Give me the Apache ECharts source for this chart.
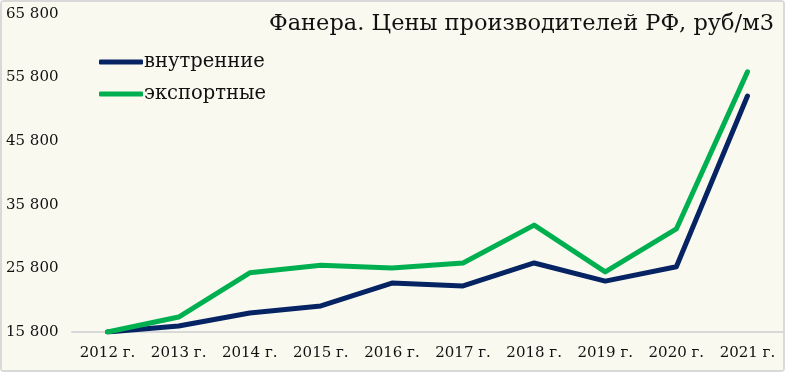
<!DOCTYPE html>
<html><head><meta charset="utf-8">
<script src="https://cdn.jsdelivr.net/npm/echarts@6/dist/echarts.min.js"></script>
<style>
html,body{margin:0;padding:0;background:#fff;}
#c{width:781px;height:368px;border:2px solid #d9d9d9;border-radius:4px;background:#f9f9ef;}
</style></head><body>
<div id="c"></div>
<script>
const categories = ['2012 г.','2013 г.','2014 г.','2015 г.','2016 г.','2017 г.','2018 г.','2019 г.','2020 г.','2021 г.'];
const domestic = [15800,16750,18800,19900,23500,23050,26650,23800,26050,52900];
const exportP = [15800,18150,25100,26300,25850,26650,32600,25250,32000,56700];
const seriesNames = ['внутренние','экспортные'];
const titleText = 'Фанера. Цены производителей РФ, руб/м3';
const font = 'DejaVu Serif';
const chart = echarts.init(document.getElementById('c'));
chart.setOption({
  backgroundColor:'#f9f9ef',
  textStyle:{fontFamily:font},
  title:{text:titleText,right:4,top:6,textStyle:{fontFamily:font,fontSize:22.5,fontWeight:'normal',color:'#111'}},
  legend:{orient:'vertical',left:92,top:45,itemWidth:44,itemHeight:5,itemGap:12,icon:'roundRect',
    textStyle:{fontFamily:font,fontSize:19.5,color:'#111',padding:[0,0,0,-4]},
    data:seriesNames},
  grid:{left:70,right:0,top:12,bottom:38},
  xAxis:{type:'category',data:categories,boundaryGap:true,
    axisLine:{lineStyle:{color:'#d9d9d9',width:2}},axisTick:{show:false},
    axisLabel:{color:'#111',fontSize:15,fontFamily:font,margin:14,interval:0}},
  yAxis:{type:'value',min:15800,max:65800,interval:10000,
    splitLine:{show:false},axisLine:{show:false},axisTick:{show:false},
    axisLabel:{color:'#111',fontSize:15,fontFamily:font,align:'left',margin:66,
      formatter:v=>String(v).replace(/\B(?=(\d{3})+(?!\d))/g,' ')}},
  series:[
    {name:seriesNames[0],type:'line',data:domestic,symbol:'none',color:'#062464',lineStyle:{width:5,cap:'round',join:'round'}},
    {name:seriesNames[1],type:'line',data:exportP,symbol:'none',color:'#00b050',lineStyle:{width:5,cap:'round',join:'round'}}
  ]
});
</script></body></html>
